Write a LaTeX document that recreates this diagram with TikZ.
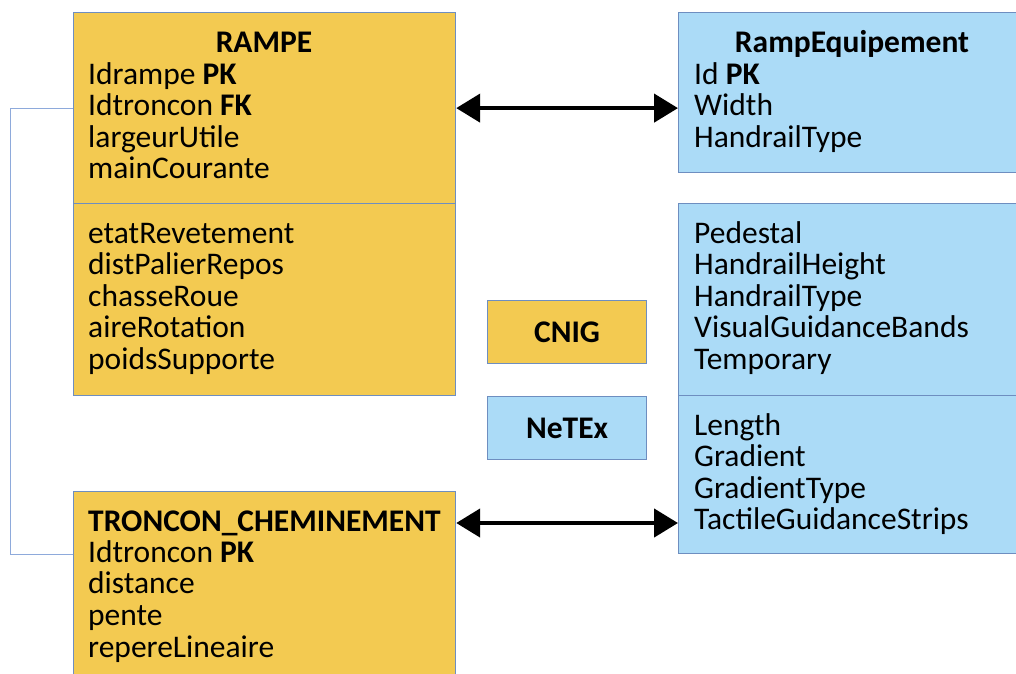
\documentclass[tikz,border=0pt]{standalone}
\usepackage{fontspec}
\setmainfont{Carlito}
\usetikzlibrary{arrows.meta}
\definecolor{ofill}{HTML}{F3CA51}
\definecolor{bfill}{HTML}{ABDBF7}
\definecolor{edgec}{HTML}{6E8EC0}
\definecolor{linkc}{HTML}{8EAADB}
\tikzset{
  box/.style={draw=edgec, line width=1.2pt, rectangle, inner sep=0pt, anchor=north west},
  obox/.style={box, fill=ofill},
  bbox/.style={box, fill=bfill},
  txt/.style={font=\fontsize{31.5}{31.5}\selectfont, anchor=base west, inner sep=0pt},
  ttl/.style={font=\fontsize{31.5}{31.5}\selectfont\bfseries, anchor=base, inner sep=0pt},
  link/.style={draw=linkc, line width=1pt},
  bigarrow/.style={line width=4.5pt, {Triangle[length=24pt,width=28pt]}-{Triangle[length=24pt,width=28pt]}},
}
\begin{document}
\begin{tikzpicture}[x=1pt,y=-1pt]
\useasboundingbox (0,0) rectangle (1016,673);
\clip (0,0) rectangle (1016,673);
% boxes
\node[obox, minimum width=382pt, minimum height=191pt] (rampeTop) at (73,12) {};
\node[obox, minimum width=382pt, minimum height=192pt] (rampeBot) at (73,203) {};
\node[obox, minimum width=382pt, minimum height=220pt] (troncon) at (73,491) {};
\node[bbox, minimum width=348pt, minimum height=160pt] (eqTop) at (678,12) {};
\node[bbox, minimum width=348pt, minimum height=192pt] (eqMid) at (678,203) {};
\node[bbox, minimum width=348pt, minimum height=158pt] (eqBot) at (678,395) {};
\node[obox, minimum width=159pt, minimum height=63pt, font=\fontsize{31.5}{31.5}\selectfont\bfseries] (cnig) at (487,300) {CNIG};
\node[bbox, minimum width=159pt, minimum height=63pt, font=\fontsize{31.5}{31.5}\selectfont\bfseries] (netex) at (487,396) {NeTEx};
% titles
\node[ttl] (tRampe) at (264,52) {RAMPE};
\node[ttl] (tEq) at (852,52) {RampEquipement};
\node[ttl, anchor=base west] (tTroncon) at (88,531) {TRONCON\_CHEMINEMENT};
% attributes
\foreach [count=\i] \t in {Idrampe \textbf{PK}, Idtroncon \textbf{FK}, largeurUtile, mainCourante}
  \node[txt] (ra\i) at (88,{84+31.5*(\i-1)}) {\t};
\foreach [count=\i] \t in {etatRevetement, distPalierRepos, chasseRoue, aireRotation, poidsSupporte}
  \node[txt] (rb\i) at (88,{243+31.5*(\i-1)}) {\t};
\foreach [count=\i] \t in {Idtroncon \textbf{PK}, distance, pente, repereLineaire}
  \node[txt] (tc\i) at (88,{562+31.7*(\i-1)}) {\t};
\foreach [count=\i] \t in {Id \textbf{PK}, Width, HandrailType}
  \node[txt] (ea\i) at (694,{84+31.5*(\i-1)}) {\t};
\foreach [count=\i] \t in {Pedestal, HandrailHeight, HandrailType, VisualGuidanceBands, Temporary}
  \node[txt] (eb\i) at (694,{243+31.5*(\i-1)}) {\t};
\foreach [count=\i] \t in {Length, Gradient, GradientType, TactileGuidanceStrips}
  \node[txt] (ec\i) at (694,{435+31.5*(\i-1)}) {\t};
% connectors
\draw[link] (rampeTop.west) -- ++(-63pt,0) |- ([yshift=-63pt]troncon.north west);
\draw[bigarrow] (rampeTop.east) -- (rampeTop.east -| eqTop.west);
\coordinate (tArrow) at ([yshift=-32pt]troncon.north east);
\draw[bigarrow] (tArrow) -- (tArrow -| eqBot.west);
\end{tikzpicture}
\end{document}
